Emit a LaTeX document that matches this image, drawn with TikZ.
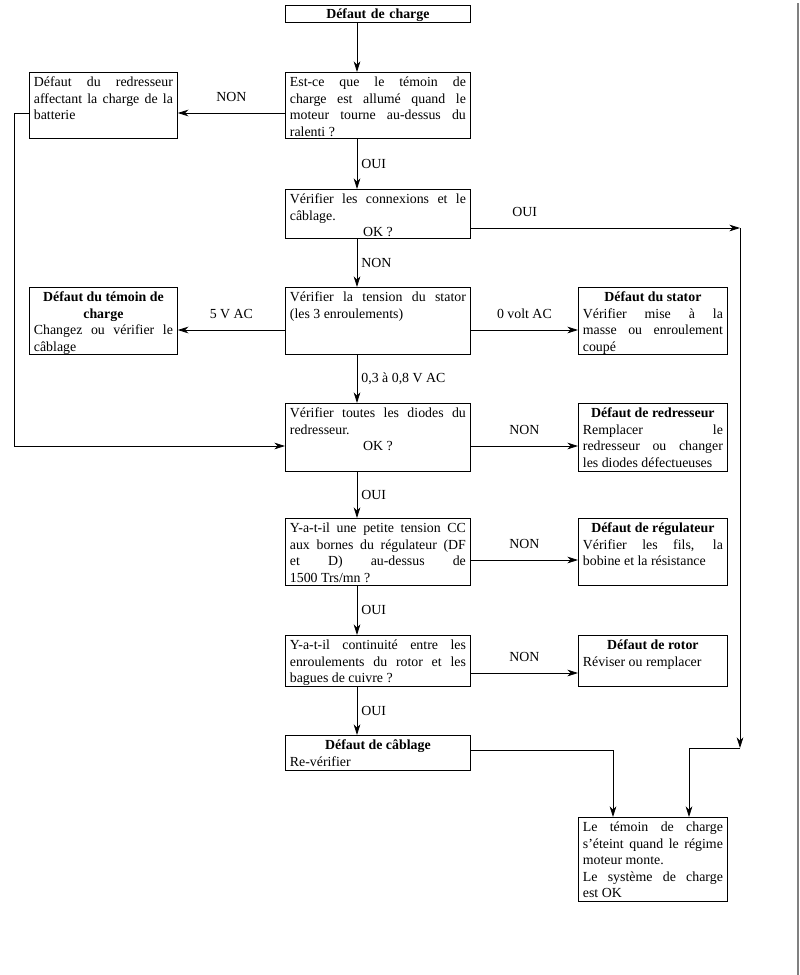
\documentclass[tikz,border=0pt]{standalone}
\usepackage{fontspec}
\setmainfont{Liberation Serif}
\usetikzlibrary{arrows.meta,positioning}

\tikzset{
    box/.style={draw, line width=0.6pt, anchor=north west, align=justify, inner xsep=3.375pt, inner ysep=0pt, text height=10.9pt},
    mainbox/.style={box, text width=132pt},
    sidebox/.style={box, text width=104.25pt},
    rightbox/.style={box, text width=105pt},
    arrow/.style={-{Stealth[length=8pt,width=5pt,inset=2.5pt]}, line width=0.6pt},
    lbl/.style={inner sep=2pt}
}

\begin{document}
\begin{tikzpicture}[x=0.75pt, y=-0.75pt, font=\fontsize{10.4}{12.3}\selectfont]
    \useasboundingbox (0,0) rectangle (800,975);

    % Page edge
    \draw[gray, line width=1pt] (798,3) -- (798,975);

    % Guide coordinates
    \coordinate (spine) at (357,0);
    \coordinate (rowA) at (0,113);
    \coordinate (rowB) at (0,228);
    \coordinate (rowC) at (0,330);
    \coordinate (rowD) at (0,446);
    \coordinate (rowE) at (0,560);
    \coordinate (rowF) at (0,673);
    \coordinate (rowG) at (0,750);

    % Main column
    \node[mainbox, align=center, text height=9.75pt, text depth=3pt] (start) at (285,5) {\textbf{Défaut de charge}};

    \node[mainbox, text depth=38.6pt] (q1) at (285,72) {Est-ce que le témoin de\linebreak
        charge est allumé quand le\linebreak
        moteur tourne au-dessus du\linebreak
        ralenti ?};

    \node[mainbox, text depth=25.85pt] (q2) at (285,189) {Vérifier les connexions et le\linebreak
        câblage.\par\centerline{OK ?}};

    \node[mainbox, text depth=39.35pt] (q3) at (285,287) {Vérifier la tension du stator\linebreak
        (les 3 enroulements)};

    \node[mainbox, text depth=40.1pt] (q4) at (285,403) {Vérifier toutes les diodes du\linebreak
        redresseur.\par\centerline{OK ?}};

    \node[mainbox, text depth=39.35pt] (q5) at (285,518) {Y-a-t-il une petite tension CC\linebreak
        aux bornes du régulateur (DF\linebreak
        et D) au-dessus de\linebreak
        1500 Trs/mn ?};

    \node[mainbox, text depth=27.35pt] (q6) at (285,635) {Y-a-t-il continuité entre les\linebreak
        enroulements du rotor et les\linebreak
        bagues de cuivre ?};

    \node[mainbox, text depth=15.35pt] (cab) at (285,735) {{\centering\bfseries Défaut de câblage\par}
        Re-vérifier};

    % Left column
    \node[sidebox, text depth=38.6pt] (l1) at (29,72) {Défaut du redresseur\linebreak
        affectant la charge de la\linebreak
        batterie};

    \node[sidebox, text depth=39.35pt] (l2) at (29,287) {{\centering\bfseries Défaut du témoin de\\ charge\par}
        Changez ou vérifier le\linebreak
        câblage};

    % Right column
    \node[rightbox, text depth=39.35pt] (r1) at (578,287) {{\centering\bfseries Défaut du stator\par}
        Vérifier mise à la\linebreak
        masse ou enroulement\linebreak
        coupé};

    \node[rightbox, text depth=40.1pt] (r2) at (578,403) {{\centering\bfseries Défaut de redresseur\par}
        Remplacer\hfill le\linebreak
        redresseur ou changer\linebreak
        les diodes défectueuses};

    \node[rightbox, text depth=39.35pt] (r3) at (578,518) {{\centering\bfseries Défaut de régulateur\par}
        Vérifier les fils, la\linebreak
        bobine et la résistance};

    \node[rightbox, text depth=27.35pt] (r4) at (578,635) {{\centering\bfseries Défaut de rotor\par}
        Réviser ou remplacer};

    % Final box
    \node[rightbox, text depth=52.1pt] (fin) at (578,817) {Le témoin de charge\linebreak
        s’éteint quand le régime\linebreak
        moteur monte.\par
        Le système de charge\linebreak
        est OK};

    % Route points
    \coordinate (rc) at (740,228);
    \coordinate (rd) at (740,748);
    \coordinate (okx) at (689,0);
    \coordinate (cabx) at (613,0);
    \coordinate (lc) at (14,113);
    \coordinate (ld) at (14,446);

    % Main flow
    \draw[arrow] (start.south -| spine) -- (q1.north -| spine);
    \draw[arrow] (q1.south -| spine) -- node[lbl, right=1pt] {OUI} (q2.north -| spine);
    \draw[arrow] (q2.south -| spine) -- node[lbl, right=1pt] {NON} (q3.north -| spine);
    \draw[arrow] (q3.south -| spine) -- node[lbl, right=1pt] {0,3 à 0,8 V AC} (q4.north -| spine);
    \draw[arrow] (q4.south -| spine) -- node[lbl, right=1pt] {OUI} (q5.north -| spine);
    \draw[arrow] (q5.south -| spine) -- node[lbl, right=1pt] {OUI} (q6.north -| spine);
    \draw[arrow] (q6.south -| spine) -- node[lbl, right=1pt] {OUI} (cab.north -| spine);

    % Side branches
    \draw[arrow] (q1.west |- rowA) -- node[lbl, above=6pt] {NON} (l1.east |- rowA);
    \draw[arrow] (q3.west |- rowC) -- node[lbl, above=6pt] {5 V AC} (l2.east |- rowC);
    \draw[arrow] (q3.east |- rowC) -- node[lbl, above=6pt] {0 volt AC} (r1.west |- rowC);
    \draw[arrow] (q4.east |- rowD) -- node[lbl, above=6pt] {NON} (r2.west |- rowD);
    \draw[arrow] (q5.east |- rowE) -- node[lbl, above=6pt] {NON} (r3.west |- rowE);
    \draw[arrow] (q6.east |- rowF) -- node[lbl, above=6pt] {NON} (r4.west |- rowF);

    % Return from left box
    \draw[arrow] (l1.west |- lc) -- (lc) -- (ld) -- (q4.west |- ld);

    % OK route on the right
    \draw[arrow] (q2.east |- rowB) -- node[lbl, above=6pt, pos=0.2] {OUI} (rc);
    \draw[arrow] (rc) -- (rd);
    \draw[arrow] (rd) -| (fin.north -| okx);
    \draw[arrow] (cab.east |- rowG) -| (fin.north -| cabx);
\end{tikzpicture}
\end{document}
